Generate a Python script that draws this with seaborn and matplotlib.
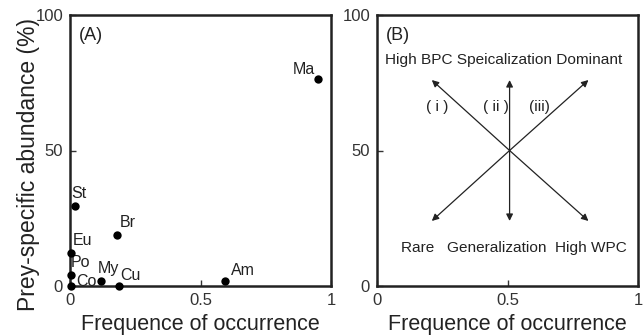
import matplotlib
matplotlib.use("Agg")
import matplotlib.pyplot as plt
import seaborn as sns
import pandas as pd

sns.set_theme(style="white")
plt.rcParams['font.family'] = ['Liberation Sans', 'DejaVu Sans']

prey = ["Ma", "St", "Br", "Eu", "Po", "Co", "My", "Cu", "Am"]
freq = [0.951, 0.018, 0.181, 0.005, 0.004, 0.004, 0.12, 0.189, 0.594]
abund = [76.5, 29.6, 18.9, 12.1, 4.1, 0.0, 2.0, 0.1, 2.0]

df = pd.DataFrame({"prey": prey, "freq": freq, "abund": abund})

# (dx px, dy px, ha, va)
label_offsets = {"Ma": (-3, 2, "right", "bottom"), "St": (-3, 5, "left", "bottom"),
                 "Br": (3, 5, "left", "bottom"), "Eu": (1, 5, "left", "bottom"),
                 "Po": (0, 5, "left", "bottom"), "Co": (5, 4, "left", "center"),
                 "My": (-4, 5, "left", "bottom"), "Cu": (1, 3, "left", "bottom"),
                 "Am": (6, 3, "left", "bottom")}

fig = plt.figure(figsize=(6.44, 3.35), dpi=100)
axA = fig.add_axes([70/644, 1-286/335, 261/644, 271/335])
axB = fig.add_axes([377/644, 1-286/335, 261/644, 271/335])

sns.scatterplot(data=df, x="freq", y="abund", ax=axA, color="black", s=36,
                edgecolor="black", linewidth=0, zorder=5, clip_on=False)
for p, x, y in zip(prey, freq, abund):
    dx, dy, ha, va = label_offsets[p]
    axA.annotate(p, (x, y), xytext=(dx, dy), textcoords="offset pixels",
                 fontsize=11.5, color="#222222", va=va, ha=ha)
axA.text(0.035, 92.6, "(A)", fontsize=13, color="#222222", ha="left", va="center")

for ax in (axA, axB):
    ax.set_xlim(0, 1)
    ax.set_ylim(0, 100)
    ax.set_xticks([0, 0.5, 1])
    ax.set_xticklabels(["0", "0.5", "1"])
    ax.set_yticks([0, 50, 100])
    ax.set_yticklabels(["0", "50", "100"])
    ax.tick_params(direction="in", length=4, width=1, labelsize=12, colors="#333333",
                   pad=5, left=True, bottom=True)
    for sp in ax.spines.values():
        sp.set_linewidth(1.8)
        sp.set_color("#222222")
    ax.set_xlabel("Frequence of occurrence", fontsize=15.5, color="#222222")
    ax.xaxis.set_label_coords(0.5, -0.103)

axA.set_ylabel("Prey-specific abundance (%)", fontsize=16.5, color="#222222")
axA.yaxis.set_label_coords(-0.115, 0.45)
axB.set_ylabel("")

# Panel B conceptual arrows
center = (0.508, 50)
tips = [(0.21, 76), (0.508, 76), (0.81, 76), (0.21, 24), (0.508, 24), (0.81, 24)]
for tx, ty in tips:
    axB.annotate("", xy=(tx, ty), xytext=center,
                 arrowprops=dict(arrowstyle="-|>", color="#222222", lw=0.9,
                                 mutation_scale=10, shrinkA=0, shrinkB=0))
axB.text(0.035, 92.6, "(B)", fontsize=13, color="#222222", ha="left", va="center")
axB.text(0.487, 83.4, "High BPC Speicalization Dominant", fontsize=11.1,
         ha="center", va="center", color="#222222")
axB.text(0.525, 14.0, "Rare   Generalization  High WPC", fontsize=11.1,
         ha="center", va="center", color="#222222")
axB.text(0.229, 66.2, "( i )", fontsize=11.1, ha="center", va="center", color="#222222")
axB.text(0.455, 66.2, "( ii )", fontsize=11.1, ha="center", va="center", color="#222222")
axB.text(0.622, 66.2, "(iii)", fontsize=11.1, ha="center", va="center", color="#222222")

fig.savefig("out.png", dpi=100)
